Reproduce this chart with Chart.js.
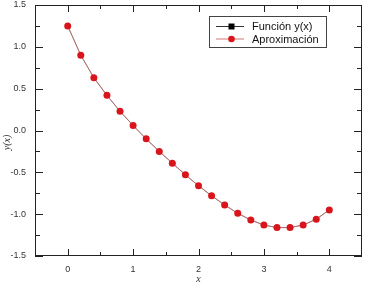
<!DOCTYPE html>
<html>
<head>
<meta charset="utf-8">
<script src="https://cdn.jsdelivr.net/npm/chart.js@4"></script>
<style>
  html, body { margin: 0; padding: 0; background: #fff; }
</style>
</head>
<body>
<canvas id="chart" width="366" height="286"></canvas>
<script>
// data
const xValues = [0, 0.2, 0.4, 0.6, 0.8, 1.0, 1.2, 1.4, 1.6, 1.8, 2.0, 2.2, 2.4, 2.6, 2.8, 3.0, 3.2, 3.4, 3.6, 3.8, 4.0];
const yFuncion = [1.25, 0.90, 0.63, 0.42, 0.23, 0.06, -0.10, -0.25, -0.39, -0.53, -0.66, -0.78, -0.89, -0.99, -1.07, -1.13, -1.16, -1.16, -1.13, -1.06, -0.95];
const yAprox = [1.25, 0.90, 0.63, 0.42, 0.23, 0.06, -0.10, -0.25, -0.39, -0.53, -0.66, -0.78, -0.89, -0.99, -1.07, -1.13, -1.16, -1.16, -1.13, -1.06, -0.95];
const xTicks = [0, 1, 2, 3, 4];
const yTicks = [-1.5, -1.0, -0.5, 0.0, 0.5, 1.0, 1.5];
const seriesNames = ['Función y(x)', 'Aproximación'];
const yTitle = 'y(x)';

const toPoints = (ys) => xValues.map((x, i) => ({ x: x, y: ys[i] }));
const midpoints = (arr) => arr.slice(1).map((v, i) => (v + arr[i]) / 2);

// frame with inward ticks on all four sides, plus the y title (sits a bit low in the original)
const frameTicks = {
  id: 'frameTicks',
  afterDatasetsDraw(chart) {
    const { ctx, chartArea: a, scales: { x, y } } = chart;
    ctx.save();
    ctx.strokeStyle = '#222';
    ctx.lineWidth = 1;
    ctx.strokeRect(a.left + 0.5, a.top + 0.5, a.right - a.left - 1, a.bottom - a.top - 1);
    ctx.beginPath();
    const xt = (v, len) => {
      const px = Math.round(x.getPixelForValue(v)) + 0.5;
      ctx.moveTo(px, a.bottom); ctx.lineTo(px, a.bottom - len);
      ctx.moveTo(px, a.top); ctx.lineTo(px, a.top + len);
    };
    const yt = (v, len) => {
      const py = Math.round(y.getPixelForValue(v)) + 0.5;
      ctx.moveTo(a.left, py); ctx.lineTo(a.left + len, py);
      ctx.moveTo(a.right, py); ctx.lineTo(a.right - len, py);
    };
    xTicks.forEach(v => xt(v, 7));
    midpoints(xTicks).forEach(v => xt(v, 4));
    yTicks.forEach(v => yt(v, 8));
    midpoints(yTicks).forEach(v => yt(v, 5));
    ctx.stroke();

    ctx.translate(7, (a.top + a.bottom) / 2 + 12);
    ctx.rotate(-Math.PI / 2);
    ctx.fillStyle = '#333';
    ctx.font = 'italic 10px "Liberation Serif", "Times New Roman", serif';
    ctx.textAlign = 'center';
    ctx.textBaseline = 'middle';
    ctx.fillText(yTitle, 0, 0);
    ctx.restore();
  }
};

// boxed legend inside the plot, top right
const boxLegend = {
  id: 'boxLegend',
  afterDraw(chart) {
    const { ctx, chartArea: a } = chart;
    const left = a.right - 153, top = a.top + 11, w = 117, h = 31;
    ctx.save();
    ctx.fillStyle = '#fff';
    ctx.fillRect(left, top, w, h);
    ctx.strokeStyle = '#444';
    ctx.lineWidth = 1;
    ctx.strokeRect(left + 0.5, top + 0.5, w, h);
    ctx.font = '11px "Liberation Sans", Arial, sans-serif';
    ctx.textBaseline = 'middle';
    seriesNames.forEach((name, i) => {
      const ds = chart.data.datasets.find(d => d.label === name);
      const cy = top + 10.5 + i * 12.5;
      ctx.strokeStyle = ds.borderColor;
      ctx.lineWidth = 1;
      ctx.beginPath();
      ctx.moveTo(left + 7, cy); ctx.lineTo(left + 35, cy);
      ctx.stroke();
      ctx.fillStyle = ds.pointBackgroundColor;
      if (ds.pointStyle === 'rect') {
        ctx.fillRect(left + 19.5, cy - 3, 6, 6);
      } else {
        ctx.beginPath();
        ctx.arc(left + 22.5, cy, 3.3, 0, Math.PI * 2);
        ctx.fill();
      }
      ctx.fillStyle = '#111';
      ctx.fillText(name, left + 43, cy + 0.5);
    });
    ctx.restore();
  }
};

new Chart(document.getElementById('chart'), {
  type: 'line',
  data: {
    datasets: [
      {
        label: seriesNames[0],
        data: toPoints(yFuncion),
        borderColor: '#333',
        borderWidth: 0.6,
        pointStyle: 'rect',
        pointRadius: 3,
        pointBackgroundColor: '#000',
        pointBorderWidth: 0,
        order: 1
      },
      {
        label: seriesNames[1],
        data: toPoints(yAprox),
        borderColor: 'rgba(205,95,95,0.85)',
        borderWidth: 0.8,
        pointStyle: 'circle',
        pointRadius: 3.5,
        pointBackgroundColor: '#d9141b',
        pointBorderWidth: 0,
        order: 0
      }
    ]
  },
  options: {
    responsive: false,
    animation: false,
    devicePixelRatio: 1,
    layout: { padding: { left: 0, top: 5, right: 4, bottom: 0 } },
    plugins: {
      legend: { display: false },
      tooltip: { enabled: false }
    },
    scales: {
      x: {
        type: 'linear',
        min: -0.5,
        max: 4.5,
        grid: { display: false, drawTicks: false },
        border: { display: false },
        afterBuildTicks: (s) => { s.ticks = xTicks.map(v => ({ value: v })); },
        afterFit: (s) => { s.height = 30; s.paddingLeft = 0; s.paddingRight = 0; },
        ticks: {
          padding: 8,
          color: '#333',
          font: { family: '"Liberation Sans", Arial, sans-serif', size: 9 },
          callback: (v) => String(v)
        },
        title: {
          display: true,
          text: 'x',
          color: '#333',
          padding: { top: 0, bottom: 1 },
          font: { family: '"Liberation Serif", "Times New Roman", serif', size: 10, style: 'italic' }
        }
      },
      y: {
        type: 'linear',
        min: -1.5,
        max: 1.5,
        grid: { display: false, drawTicks: false },
        border: { display: false },
        afterBuildTicks: (s) => { s.ticks = yTicks.map(v => ({ value: v })); },
        afterFit: (s) => { s.width = 35; s.paddingTop = 0; s.paddingBottom = 0; },
        ticks: {
          padding: 9,
          color: '#333',
          font: { family: '"Liberation Sans", Arial, sans-serif', size: 9 },
          callback: (v) => v.toFixed(1)
        }
      }
    }
  },
  plugins: [frameTicks, boxLegend]
});
</script>
</body>
</html>
